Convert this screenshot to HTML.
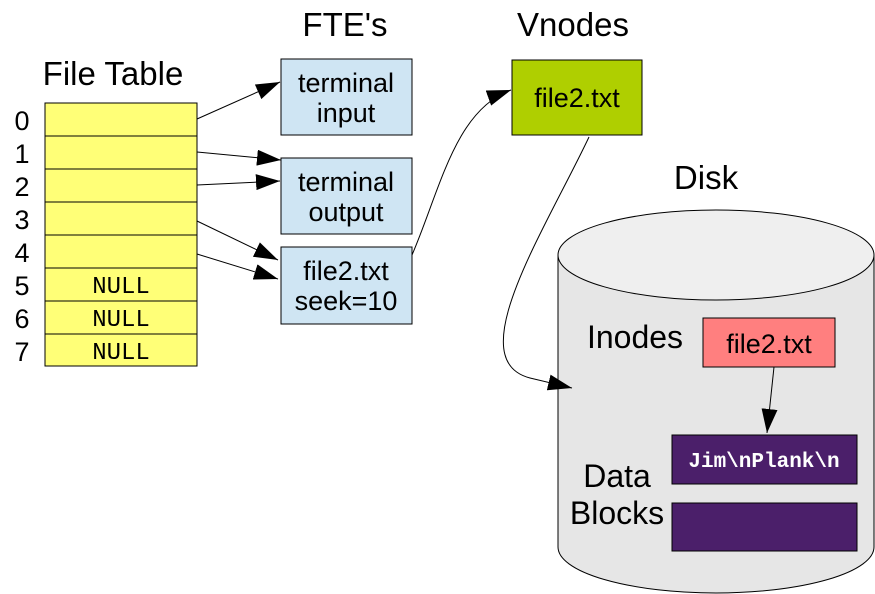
<!DOCTYPE html>
<html><head><meta charset="utf-8"><style>
html,body{margin:0;padding:0;background:#fff;}
svg{display:block;font-family:"Liberation Sans",sans-serif;}
</style></head><body>
<svg width="875" height="594" viewBox="0 0 875 594" xmlns="http://www.w3.org/2000/svg">
<defs>
<marker id="ah" viewBox="0 0 24 16" refX="24" refY="8" markerWidth="24" markerHeight="16" markerUnits="userSpaceOnUse" orient="auto">
<path d="M0,0 L24,8 L0,16 z" fill="#000"/></marker>
</defs>
<text x="113" y="85" font-size="33" text-anchor="middle">File Table</text>
<text x="345" y="36" font-size="33" text-anchor="middle">FTE's</text>
<text x="573" y="36" font-size="33" text-anchor="middle">Vnodes</text>
<text x="706" y="189" font-size="33" text-anchor="middle">Disk</text>
<g fill="#ffff77" stroke="#000" stroke-width="1">
<rect x="45" y="103" width="152" height="33"/>
<rect x="45" y="136" width="152" height="33"/>
<rect x="45" y="169" width="152" height="33"/>
<rect x="45" y="202" width="152" height="33"/>
<rect x="45" y="235" width="152" height="33"/>
<rect x="45" y="268" width="152" height="33"/>
<rect x="45" y="301" width="152" height="33"/>
<rect x="45" y="334" width="152" height="32"/>
</g>
<g font-size="27" text-anchor="middle">
<text x="22" y="130">0</text><text x="22" y="163">1</text><text x="22" y="196">2</text><text x="22" y="229">3</text>
<text x="22" y="262">4</text><text x="22" y="295">5</text><text x="22" y="328">6</text><text x="22" y="361">7</text>
</g>
<g font-family="Liberation Mono,monospace" font-size="24" text-anchor="middle">
<text x="121" y="293">NULL</text><text x="121" y="326">NULL</text><text x="121" y="359">NULL</text>
</g>
<g fill="#cfe5f3" stroke="#000" stroke-width="1">
<rect x="281" y="59" width="131" height="76"/>
<rect x="281" y="158" width="131" height="76"/>
<rect x="281" y="247" width="131" height="77"/>
</g>
<g font-size="27" text-anchor="middle">
<text x="346" y="92">terminal</text><text x="346" y="122">input</text>
<text x="346" y="191">terminal</text><text x="346" y="221">output</text>
<text x="346" y="280">file2.txt</text><text x="346" y="310">seek=10</text>
</g>
<rect x="512" y="60" width="130" height="75" fill="#afcf00" stroke="#000"/>
<text x="577" y="107" font-size="27" text-anchor="middle">file2.txt</text>
<path d="M558,255 L558,547 A158,46 0 0 0 874,547 L874,255" fill="#e6e6e6" stroke="#000"/>
<ellipse cx="716" cy="255" rx="158" ry="45" fill="#efefef" stroke="#000"/>
<text x="635" y="348" font-size="32" text-anchor="middle">Inodes</text>
<text x="617" y="487" font-size="32" text-anchor="middle">Data</text>
<text x="617" y="524" font-size="32" text-anchor="middle">Blocks</text>
<rect x="703" y="318" width="132" height="49" fill="#ff7f7f" stroke="#000"/>
<text x="769" y="353" font-size="27" text-anchor="middle">file2.txt</text>
<rect x="672" y="435" width="185" height="49" fill="#4b1f6a" stroke="#000"/>
<text x="764" y="467" font-size="21" font-weight="bold" fill="#fff" font-family="Liberation Mono,monospace" text-anchor="middle">Jim\nPlank\n</text>
<rect x="672" y="503" width="185" height="48" fill="#4b1f6a" stroke="#000"/>
<g stroke="#000" stroke-width="1" fill="none" marker-end="url(#ah)">
<line x1="197" y1="119" x2="280" y2="82"/>
<line x1="197" y1="152" x2="281" y2="160"/>
<line x1="197" y1="185" x2="280" y2="181"/>
<line x1="197" y1="221" x2="278" y2="260"/>
<line x1="197" y1="254" x2="278" y2="279"/>
<path d="M412,255 C440,190 455,110 511,90"/>
<path d="M589,137 C545,230 460,360 530,378 L572,388"/>
<line x1="774" y1="367" x2="767" y2="433"/>
</g>
</svg>
</body></html>
